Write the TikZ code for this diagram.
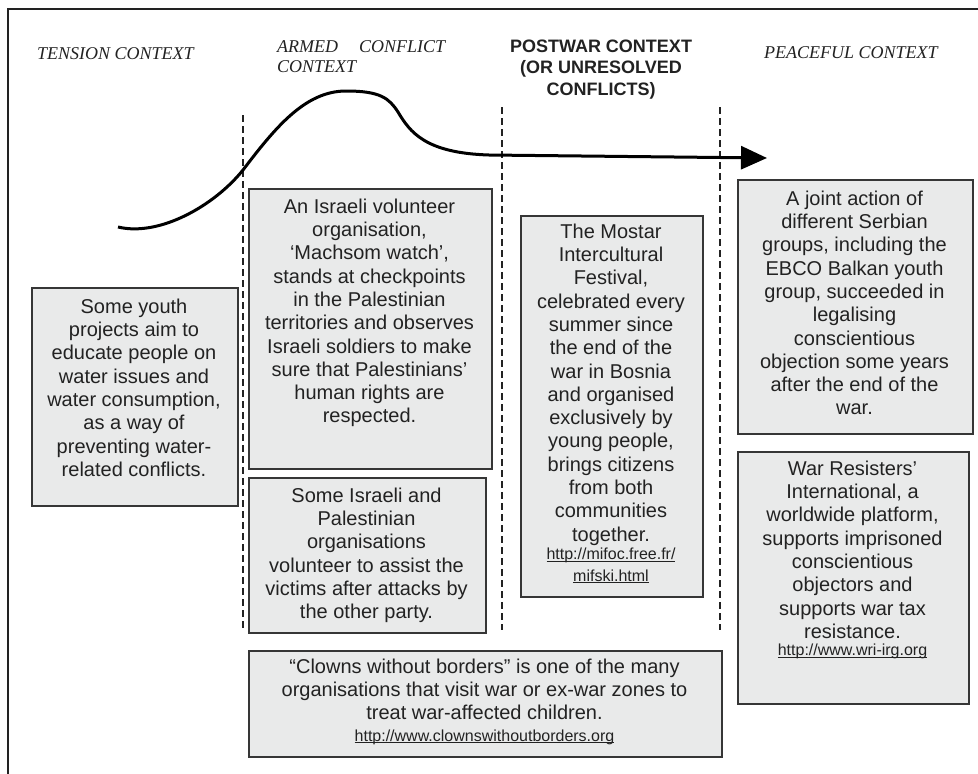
\documentclass[tikz,border=0pt]{standalone}
\usepackage{fontspec}
\setmainfont{Liberation Sans}
\newfontfamily\serifface{Liberation Serif}
\usetikzlibrary{arrows.meta}

\definecolor{boxfill}{HTML}{E9EAEA}
\definecolor{boxline}{HTML}{363636}
\definecolor{ink}{HTML}{222222}

% web address: smaller type with a close, thin underline
\newsavebox\linkbox
\newcommand\weblink[1]{{\fontsize{16}{19}\selectfont
  \sbox\linkbox{#1}\rlap{\rule[-2.2pt]{\wd\linkbox}{1.1pt}}\usebox\linkbox}}

\tikzset{
  panel/.style={draw=boxline, fill=boxfill, line width=2pt, inner sep=0pt,
    anchor=north west},
  body/.style={font=\fontsize{20}{23.3}\selectfont, text=ink, align=center,
    inner sep=0pt, anchor=north},
  ctxit/.style={font=\serifface\itshape\fontsize{18}{20}\selectfont, text=ink,
    inner sep=0pt, anchor=base west},
  ctxbold/.style={font=\bfseries\fontsize{18}{21.5}\selectfont, text=ink,
    align=center, inner sep=0pt, anchor=north},
  divider/.style={draw=ink, line width=1.8pt, dash pattern=on 7pt off 4pt},
  frame/.style={draw=ink, line width=1.6pt},
  trend/.style={draw=black, line width=3pt,
    -{Triangle[length=26pt,width=23pt]}}
}

\begin{document}
\begin{tikzpicture}[x=1pt, y=-1pt]
  % page area
  \fill[white] (0,0) rectangle (978,774);
  \useasboundingbox (0,0) rectangle (978,774);

  % outer frame (left and top edges only)
  \coordinate (fbl) at (8,775);
  \coordinate (ftl) at (8,9);
  \coordinate (ftr) at (979,9);
  \draw[frame] (fbl) -- (ftl) -- (ftr);

  % context headings
  \node[ctxit] (hTension) at (37,59) {TENSION CONTEXT};
  \node[ctxit] (hArmedA) at (277,52) {\makebox[168pt][s]{ARMED CONFLICT}};
  \node[ctxit] (hArmedB) at (277,72) {CONTEXT};
  \node[ctxbold] (hPostwar) at (601,36.95)
    {\strut POSTWAR CONTEXT\\(OR UNRESOLVED\\CONFLICTS)};
  \node[ctxit] (hPeace) at (764,58) {PEACEFUL CONTEXT};

  % dashed dividers between the contexts
  \coordinate (d1t) at (243,115); \coordinate (d1b) at (243,628);
  \coordinate (d2t) at (502,107); \coordinate (d2b) at (502,630);
  \coordinate (d3t) at (720,107); \coordinate (d3b) at (720,630);
  \draw[divider] (d1t) -- (d1b);
  \draw[divider] (d2t) -- (d2b);
  \draw[divider] (d3t) -- (d3b);

  % conflict intensity curve
  \coordinate (c0) at (118,227);
  \coordinate (c1) at (243,170);
  \coordinate (c2) at (346,91);
  \coordinate (c3) at (398,112);
  \coordinate (c4) at (489,155);
  \coordinate (tip) at (767,158);
  \draw[trend] (c0) .. controls (160,237) and (215,205) .. (c1)
    .. controls (275,128) and (305,91) .. (c2)
    .. controls (380,91) and (389,98) .. (c3)
    .. controls (410,132) and (425,153) .. (c4) -- (tip);

  % example panels
  \node[panel, minimum width=206pt, minimum height=218pt] (p1) at (31,287) {};
  \node[panel, minimum width=243pt, minimum height=280pt] (p2) at (248,188) {};
  \node[panel, minimum width=237pt, minimum height=155pt] (p3) at (248,477) {};
  \node[panel, minimum width=182pt, minimum height=381pt] (p4) at (520,215) {};
  \node[panel, minimum width=235pt, minimum height=254pt] (p5) at (737,179) {};
  \node[panel, minimum width=231pt, minimum height=252pt] (p6) at (737,451) {};
  \node[panel, minimum width=473pt, minimum height=106pt] (p7) at (248,650) {};

  \node[body] (t1) at (134,296.7) {\strut Some youth\\projects aim to\\
    educate people on\\water issues and\\water consumption,\\as a way of\\
    preventing water-\\related conflicts.};
  \node[body] (t2) at (369.5,196.7) {\strut An Israeli volunteer\\organisation,\\
    ‘Machsom watch’,\\stands at checkpoints\\in the Palestinian\\
    territories and observes\\Israeli soldiers to make\\
    sure that Palestinians’\\human rights are\\respected.};
  \node[body] (t3) at (366.5,485.7) {\strut Some Israeli and\\Palestinian\\
    organisations\\volunteer to assist the\\victims after attacks by\\
    the other party.};
  \node[body] (t4) at (611,221.7) {\strut The Mostar\\Intercultural\\Festival,\\
    celebrated every\\summer since\\the end of the\\war in Bosnia\\
    and organised\\exclusively by\\young people,\\brings citizens\\
    from both\\communities\\together.\\[-5pt]
    \weblink{http://mifoc.free.fr/}\\[-1.5pt]\weblink{mifski.html}};
  \node[body] (t5) at (854.5,188.7) {\strut A joint action of\\different Serbian\\
    groups, including the\\EBCO Balkan youth\\group, succeeded in\\
    legalising\\conscientious\\objection some years\\after the end of the\\war.};
  \node[body] (t6) at (852.5,458.7) {\strut War Resisters’\\International, a\\
    worldwide platform,\\supports imprisoned\\conscientious\\objectors and\\
    supports war tax\\resistance.\\[-6pt]\weblink{http://www.wri-irg.org}};
  \node[body] (t7) at (484.5,656.7) {\strut “Clowns without borders” is one of the many\\
    organisations that visit war or ex-war zones to\\
    treat war-affected children.\\[-2pt]
    \weblink{http://www.clownswithoutborders.org}};
\end{tikzpicture}
\end{document}
